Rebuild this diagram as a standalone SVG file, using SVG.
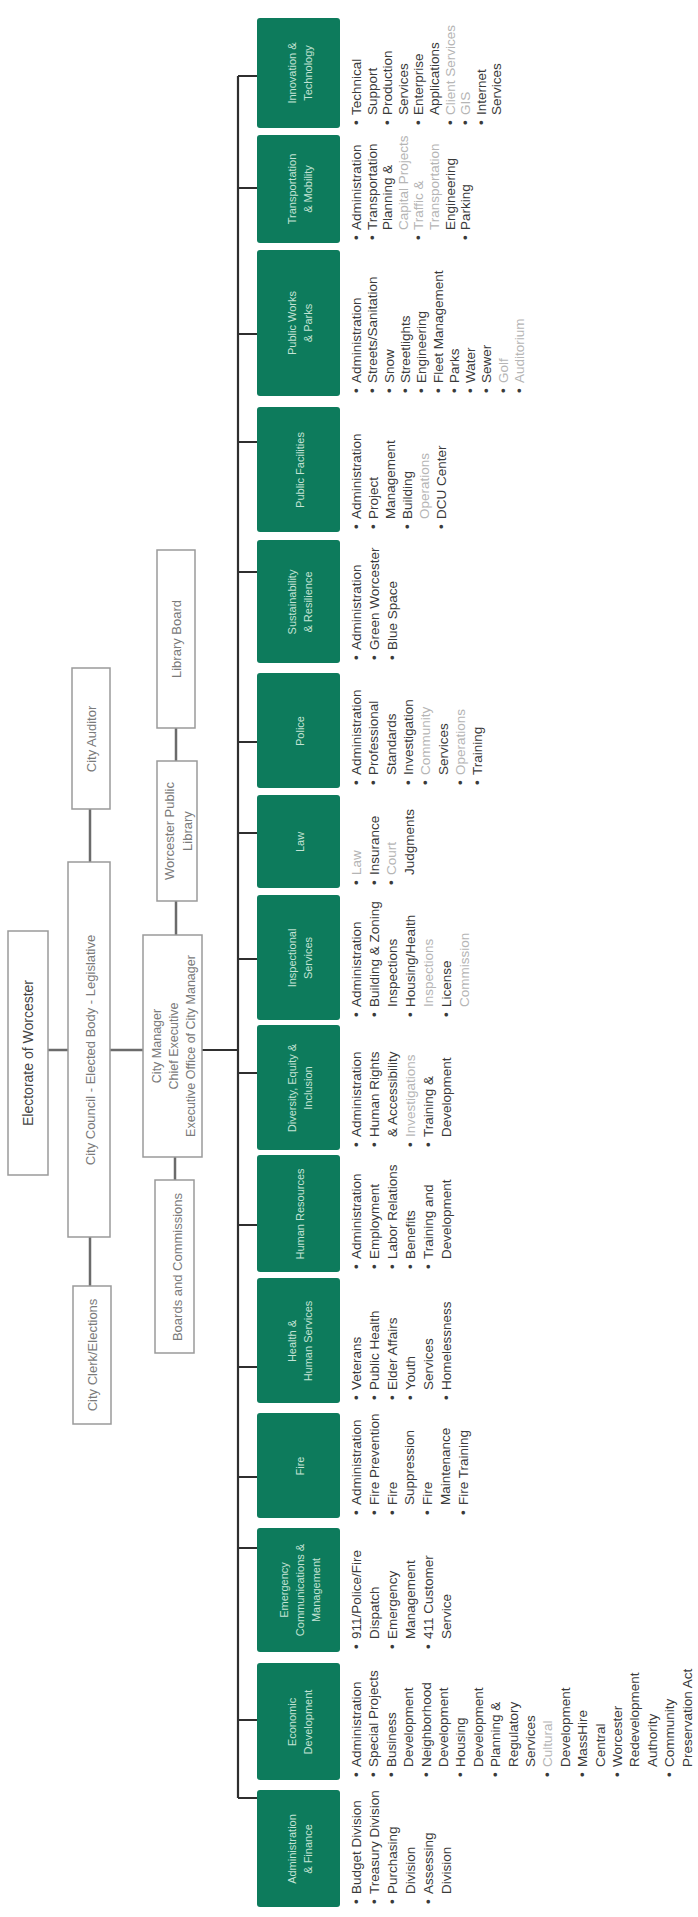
<svg xmlns="http://www.w3.org/2000/svg" width="698" height="1917" viewBox="0 0 698 1917">
<style>
.box{fill:#fff;stroke:#9a9a9a;stroke-width:1.5}
.dept{fill:#0d7b5c}
.t{font-family:"Liberation Sans",Arial,sans-serif;fill:#7a7a7a;font-size:13px;text-anchor:middle}
.te{font-family:"Liberation Sans",Arial,sans-serif;fill:#444;font-size:14px;text-anchor:middle}
.dt{font-family:"Liberation Sans",Arial,sans-serif;fill:#c4e3d5;font-size:11px;text-anchor:middle}
.li{font-family:"Liberation Sans",Arial,sans-serif;fill:#3a3a3a;font-size:13.5px}
.lt{fill:#b5b5b5}
.con{stroke:#6b6b6b;stroke-width:2.5;fill:none}
.bus{stroke:#2f2f2f;stroke-width:2.2;fill:none}
</style>
<rect width="698" height="1917" fill="#fff"/>
<g transform="translate(0,1917) rotate(-90)">
<g id="connectors">
<path class="con" d="M867,48V68M867,110V143M1055,90H1108M631,90H680M1156,176H1189M982,176H1016M737,175H760"/>
<path class="bus" d="M867,202V238M119,238H1841M119,238V257M197,238V257M369,238V257M440,238V257M550,238V257M692,238V257M844,238V257M958,238V257M1084,238V257M1175,238V257M1345,238V257M1475,238V257M1583,238V257M1729,238V257M1841,238V257"/>
</g>
<g id="electorate"><rect class="box" x="742" y="8" width="244" height="40"/><text class="te" x="864" y="33">Electorate of Worcester</text></g>
<g id="city-council"><rect class="box" x="680" y="68" width="375" height="42"/><text class="t" x="867" y="95">City Council - Elected Body - Legislative</text></g>
<g id="city-auditor"><rect class="box" x="1108" y="72" width="141" height="38"/><text class="t" x="1178" y="96">City Auditor</text></g>
<g id="city-clerk"><rect class="box" x="493" y="73" width="138" height="38"/><text class="t" x="562" y="97">City Clerk/Elections</text></g>
<g id="city-manager"><rect class="box" x="760" y="143" width="222" height="59"/><text class="t" x="871" style="font-size:12.5px"><tspan x="871" y="161">City Manager</tspan><tspan x="871" y="178">Chief Executive</tspan><tspan x="871" y="195">Executive Office of City Manager</tspan></text></g>
<g id="public-library"><rect class="box" x="1016" y="157" width="140" height="40"/><text class="t"><tspan x="1086" y="174">Worcester Public</tspan><tspan x="1086" y="192">Library</tspan></text></g>
<g id="library-board"><rect class="box" x="1189" y="157" width="178" height="38"/><text class="t" x="1278" y="181">Library Board</text></g>
<g id="boards-commissions"><rect class="box" x="564" y="155" width="173" height="39"/><text class="t" x="650" y="182">Boards and Commissions</text></g>

<g id="dept-admin-finance"><rect class="dept" x="10" y="257" width="117" height="83" rx="3"/>
<text class="dt"><tspan x="68" y="296">Administration</tspan><tspan x="68" y="312">&amp; Finance</tspan></text>
<text class="li"><tspan x="13" y="361">•</tspan><tspan x="13" y="379">•</tspan><tspan x="13" y="397">•</tspan><tspan x="13" y="433">•</tspan></text>
<text class="li"><tspan x="23" y="361">Budget Division</tspan><tspan x="23" y="379">Treasury Division</tspan><tspan x="23" y="397">Purchasing</tspan><tspan x="23" y="415">Division</tspan><tspan x="23" y="433">Assessing</tspan><tspan x="23" y="451">Division</tspan></text></g>

<g id="dept-economic-development"><rect class="dept" x="137" y="257" width="117" height="83" rx="3"/>
<text class="dt"><tspan x="195" y="296">Economic</tspan><tspan x="195" y="312">Development</tspan></text>
<text class="li"><tspan x="140" y="361">•</tspan><tspan x="140" y="378.4">•</tspan><tspan x="140" y="395.8">•</tspan><tspan x="140" y="430.6">•</tspan><tspan x="140" y="465.4">•</tspan><tspan x="140" y="500.2">•</tspan><tspan x="140" y="552.4">•</tspan><tspan x="140" y="587.2">•</tspan><tspan x="140" y="622">•</tspan><tspan x="140" y="674.2">•</tspan></text>
<text class="li"><tspan x="150" y="361">Administration</tspan><tspan x="150" y="378.4">Special Projects</tspan><tspan x="150" y="395.8">Business</tspan><tspan x="150" y="413.2">Development</tspan><tspan x="150" y="430.6">Neighborhood</tspan><tspan x="150" y="448">Development</tspan><tspan x="150" y="465.4">Housing</tspan><tspan x="150" y="482.8">Development</tspan><tspan x="150" y="500.2">Planning &amp;</tspan><tspan x="150" y="517.6">Regulatory</tspan><tspan x="150" y="535">Services</tspan><tspan class="lt" x="150" y="552.4">Cultural</tspan><tspan x="150" y="569.8">Development</tspan><tspan x="150" y="587.2">MassHire</tspan><tspan x="150" y="604.6">Central</tspan><tspan x="150" y="622">Worcester</tspan><tspan x="150" y="639.4">Redevelopment</tspan><tspan x="150" y="656.8">Authority</tspan><tspan x="150" y="674.2">Community</tspan><tspan x="150" y="691.6">Preservation Act</tspan></text></g>

<g id="dept-emergency"><rect class="dept" x="265" y="257" width="124" height="83" rx="3"/>
<text class="dt"><tspan x="327" y="288">Emergency</tspan><tspan x="327" y="304">Communications &amp;</tspan><tspan x="327" y="320">Management</tspan></text>
<text class="li"><tspan x="268" y="361">•</tspan><tspan x="268" y="397">•</tspan><tspan x="268" y="433">•</tspan></text>
<text class="li"><tspan x="278" y="361">911/Police/Fire</tspan><tspan x="278" y="379">Dispatch</tspan><tspan x="278" y="397">Emergency</tspan><tspan x="278" y="415">Management</tspan><tspan x="278" y="433">411 Customer</tspan><tspan x="278" y="451">Service</tspan></text></g>

<g id="dept-fire"><rect class="dept" x="399" y="257" width="105" height="83" rx="3"/>
<text class="dt" x="451" y="304">Fire</text>
<text class="li"><tspan x="402" y="361">•</tspan><tspan x="402" y="378.8">•</tspan><tspan x="402" y="396.6">•</tspan><tspan x="402" y="432.2">•</tspan><tspan x="402" y="467.8">•</tspan></text>
<text class="li"><tspan x="412" y="361">Administration</tspan><tspan x="412" y="378.8">Fire Prevention</tspan><tspan x="412" y="396.6">Fire</tspan><tspan x="412" y="414.4">Suppression</tspan><tspan x="412" y="432.2">Fire</tspan><tspan x="412" y="450">Maintenance</tspan><tspan x="412" y="467.8">Fire Training</tspan></text></g>

<g id="dept-health"><rect class="dept" x="514" y="257" width="125" height="83" rx="3"/>
<text class="dt"><tspan x="576" y="296">Health &amp;</tspan><tspan x="576" y="312">Human Services</tspan></text>
<text class="li"><tspan x="517" y="361">•</tspan><tspan x="517" y="379">•</tspan><tspan x="517" y="397">•</tspan><tspan x="517" y="415">•</tspan><tspan x="517" y="451">•</tspan></text>
<text class="li"><tspan x="527" y="361">Veterans</tspan><tspan x="527" y="379">Public Health</tspan><tspan x="527" y="397">Elder Affairs</tspan><tspan x="527" y="415">Youth</tspan><tspan x="527" y="433">Services</tspan><tspan x="527" y="451">Homelessness</tspan></text></g>

<g id="dept-human-resources"><rect class="dept" x="645" y="257" width="117" height="83" rx="3"/>
<text class="dt" x="703" y="304">Human Resources</text>
<text class="li"><tspan x="648" y="361">•</tspan><tspan x="648" y="379">•</tspan><tspan x="648" y="397">•</tspan><tspan x="648" y="415">•</tspan><tspan x="648" y="433">•</tspan></text>
<text class="li"><tspan x="658" y="361">Administration</tspan><tspan x="658" y="379">Employment</tspan><tspan x="658" y="397">Labor Relations</tspan><tspan x="658" y="415">Benefits</tspan><tspan x="658" y="433">Training and</tspan><tspan x="658" y="451">Development</tspan></text></g>

<g id="dept-dei"><rect class="dept" x="767" y="257" width="125" height="83" rx="3"/>
<text class="dt"><tspan x="829" y="296">Diversity, Equity &amp;</tspan><tspan x="829" y="312">Inclusion</tspan></text>
<text class="li"><tspan x="770" y="361">•</tspan><tspan x="770" y="379">•</tspan><tspan x="770" y="415">•</tspan><tspan x="770" y="433">•</tspan></text>
<text class="li"><tspan x="780" y="361">Administration</tspan><tspan x="780" y="379">Human Rights</tspan><tspan x="780" y="397">&amp; Accessibility</tspan><tspan class="lt" x="780" y="415">Investigations</tspan><tspan x="780" y="433">Training &amp;</tspan><tspan x="780" y="451">Development</tspan></text></g>

<g id="dept-inspectional"><rect class="dept" x="897" y="257" width="125" height="83" rx="3"/>
<text class="dt"><tspan x="959" y="296">Inspectional</tspan><tspan x="959" y="312">Services</tspan></text>
<text class="li"><tspan x="900" y="361">•</tspan><tspan x="900" y="379">•</tspan><tspan x="900" y="415">•</tspan><tspan x="900" y="451">•</tspan></text>
<text class="li"><tspan x="910" y="361">Administration</tspan><tspan x="910" y="379">Building &amp; Zoning</tspan><tspan x="910" y="397">Inspections</tspan><tspan x="910" y="415">Housing/Health</tspan><tspan class="lt" x="910" y="433">Inspections</tspan><tspan x="910" y="451">License</tspan><tspan class="lt" x="910" y="469">Commission</tspan></text></g>

<g id="dept-law"><rect class="dept" x="1029" y="257" width="93" height="83" rx="3"/>
<text class="dt" x="1075" y="304">Law</text>
<text class="li"><tspan x="1032" y="361">•</tspan><tspan x="1032" y="378.7">•</tspan><tspan x="1032" y="396.4">•</tspan></text>
<text class="li"><tspan class="lt" x="1042" y="361">Law</tspan><tspan x="1042" y="378.7">Insurance</tspan><tspan class="lt" x="1042" y="396.4">Court</tspan><tspan x="1042" y="414.1">Judgments</tspan></text></g>

<g id="dept-police"><rect class="dept" x="1129" y="257" width="115" height="83" rx="3"/>
<text class="dt" x="1186" y="304">Police</text>
<text class="li"><tspan x="1132" y="361">•</tspan><tspan x="1132" y="378.3">•</tspan><tspan x="1132" y="412.9">•</tspan><tspan x="1132" y="430.2">•</tspan><tspan x="1132" y="464.8">•</tspan><tspan x="1132" y="482.1">•</tspan></text>
<text class="li"><tspan x="1142" y="361">Administration</tspan><tspan x="1142" y="378.3">Professional</tspan><tspan x="1142" y="395.6">Standards</tspan><tspan x="1142" y="412.9">Investigation</tspan><tspan class="lt" x="1142" y="430.2">Community</tspan><tspan x="1142" y="447.5">Services</tspan><tspan class="lt" x="1142" y="464.8">Operations</tspan><tspan x="1142" y="482.1">Training</tspan></text></g>

<g id="dept-sustainability"><rect class="dept" x="1254" y="257" width="123" height="83" rx="3"/>
<text class="dt"><tspan x="1315" y="296">Sustainability</tspan><tspan x="1315" y="312">&amp; Resilience</tspan></text>
<text class="li"><tspan x="1257" y="361">•</tspan><tspan x="1257" y="379">•</tspan><tspan x="1257" y="397">•</tspan></text>
<text class="li"><tspan x="1267" y="361">Administration</tspan><tspan x="1267" y="379">Green Worcester</tspan><tspan x="1267" y="397">Blue Space</tspan></text></g>

<g id="dept-public-facilities"><rect class="dept" x="1385" y="257" width="125" height="83" rx="3"/>
<text class="dt" x="1447" y="304">Public Facilities</text>
<text class="li"><tspan x="1388" y="361">•</tspan><tspan x="1388" y="378">•</tspan><tspan x="1388" y="412">•</tspan><tspan x="1388" y="446">•</tspan></text>
<text class="li"><tspan x="1398" y="361">Administration</tspan><tspan x="1398" y="378">Project</tspan><tspan x="1398" y="395">Management</tspan><tspan x="1398" y="412">Building</tspan><tspan class="lt" x="1398" y="429">Operations</tspan><tspan x="1398" y="446">DCU Center</tspan></text></g>

<g id="dept-public-works"><rect class="dept" x="1521" y="257" width="146" height="83" rx="3"/>
<text class="dt"><tspan x="1594" y="296">Public Works</tspan><tspan x="1594" y="312">&amp; Parks</tspan></text>
<text class="li"><tspan x="1524" y="361">•</tspan><tspan x="1524" y="377.3">•</tspan><tspan x="1524" y="393.6">•</tspan><tspan x="1524" y="409.9">•</tspan><tspan x="1524" y="426.2">•</tspan><tspan x="1524" y="442.5">•</tspan><tspan x="1524" y="458.8">•</tspan><tspan x="1524" y="475.1">•</tspan><tspan x="1524" y="491.4">•</tspan><tspan x="1524" y="507.7">•</tspan><tspan x="1524" y="524">•</tspan></text>
<text class="li"><tspan x="1534" y="361">Administration</tspan><tspan x="1534" y="377.3">Streets/Sanitation</tspan><tspan x="1534" y="393.6">Snow</tspan><tspan x="1534" y="409.9">Streetlights</tspan><tspan x="1534" y="426.2">Engineering</tspan><tspan x="1534" y="442.5">Fleet Management</tspan><tspan x="1534" y="458.8">Parks</tspan><tspan x="1534" y="475.1">Water</tspan><tspan x="1534" y="491.4">Sewer</tspan><tspan class="lt" x="1534" y="507.7">Golf</tspan><tspan class="lt" x="1534" y="524">Auditorium</tspan></text></g>

<g id="dept-transportation"><rect class="dept" x="1674" y="257" width="108" height="83" rx="3"/>
<text class="dt"><tspan x="1728" y="296">Transportation</tspan><tspan x="1728" y="312">&amp; Mobility</tspan></text>
<text class="li"><tspan x="1677" y="361">•</tspan><tspan x="1677" y="376.6">•</tspan><tspan x="1677" y="423.4">•</tspan><tspan x="1677" y="470.2">•</tspan></text>
<text class="li"><tspan x="1687" y="361">Administration</tspan><tspan x="1687" y="376.6">Transportation</tspan><tspan x="1687" y="392.2">Planning &amp;</tspan><tspan class="lt" x="1687" y="407.8">Capital Projects</tspan><tspan class="lt" x="1687" y="423.4">Traffic &amp;</tspan><tspan class="lt" x="1687" y="439">Transportation</tspan><tspan x="1687" y="454.6">Engineering</tspan><tspan x="1687" y="470.2">Parking</tspan></text></g>

<g id="dept-innovation"><rect class="dept" x="1789" y="257" width="110" height="83" rx="3"/>
<text class="dt"><tspan x="1844" y="296">Innovation &amp;</tspan><tspan x="1844" y="312">Technology</tspan></text>
<text class="li"><tspan x="1792" y="361">•</tspan><tspan x="1792" y="392.2">•</tspan><tspan x="1792" y="423.4">•</tspan><tspan x="1792" y="454.6">•</tspan><tspan x="1792" y="470.2">•</tspan><tspan x="1792" y="485.8">•</tspan></text>
<text class="li"><tspan x="1802" y="361">Technical</tspan><tspan x="1802" y="376.6">Support</tspan><tspan x="1802" y="392.2">Production</tspan><tspan x="1802" y="407.8">Services</tspan><tspan x="1802" y="423.4">Enterprise</tspan><tspan x="1802" y="439">Applications</tspan><tspan class="lt" x="1802" y="454.6">Client Services</tspan><tspan class="lt" x="1802" y="470.2">GIS</tspan><tspan x="1802" y="485.8">Internet</tspan><tspan x="1802" y="501.4">Services</tspan></text></g>
</g>
</svg>
